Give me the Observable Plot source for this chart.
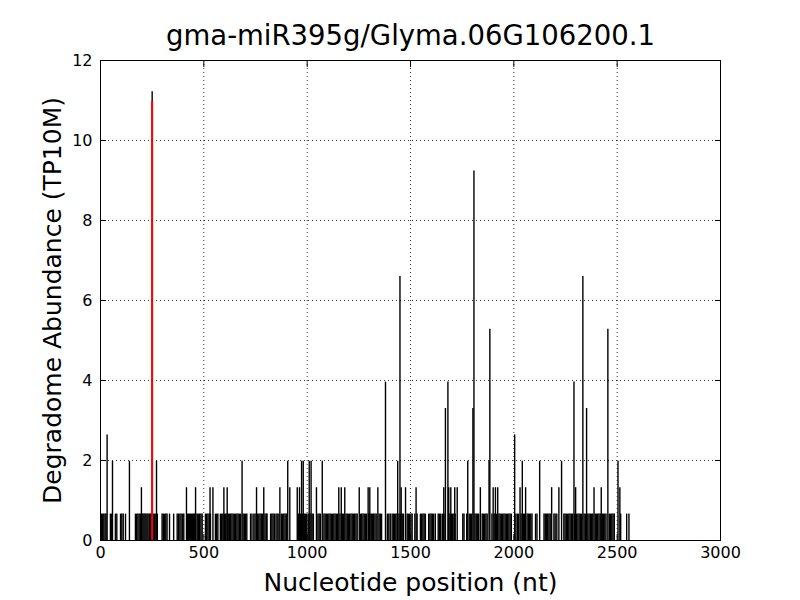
<!DOCTYPE html>
<html><head><meta charset="utf-8">
<script src="https://cdn.jsdelivr.net/npm/d3@7"></script>
<script src="https://cdn.jsdelivr.net/npm/@observablehq/plot@0.6"></script>
<style>body{margin:0;background:#fff;} svg{font-family:"DejaVu Sans";}</style>
</head><body><div id="chart"></div>
<script>
const title = "gma-miR395g/Glyma.06G106200.1";
const xLabel = "Nucleotide position (nt)";
const yLabel = "Degradome Abundance (TP10M)";
const xTicks = [0, 500, 1000, 1500, 2000, 2500, 3000];
const yTicks = [0, 2, 4, 6, 8, 10, 12];

// positions (nt) of reads at each abundance level
const level066 = [5, 10, 16, 22, 27, 48, 53, 72, 79, 97, 103, 110, 121, 169, 175, 181, 187, 193,
  200, 205, 210, 215, 220, 225, 230, 236, 242, 245, 256, 262, 268, 275, 298, 304, 310, 316, 322,
  334, 354, 371, 377, 384, 390, 397, 403, 421, 426, 431, 436, 441, 446, 451, 456, 461,
  468, 474, 480, 486, 492, 508, 514, 520, 526, 532, 556, 562, 568,
  580, 586, 592, 600, 606, 612, 618, 624, 630, 636, 642, 648, 654, 660, 666, 672, 678, 690, 696, 702, 708,
  726, 733, 742, 748, 760, 766, 772, 778, 784, 796, 802, 806, 823, 829, 835, 841, 849, 855,
  863, 875, 881, 887, 893, 899, 957, 968, 978, 986, 992, 998, 1005, 1014, 1024, 1030,
  1052, 1058, 1064, 1081, 1087, 1093, 1099, 1105, 1111, 1117, 1123, 1129, 1135, 1141, 1147,
  1159, 1170, 1176, 1188, 1194, 1200, 1206, 1212, 1218, 1224, 1230, 1236, 1242,
  1258, 1264, 1270, 1276, 1282, 1288, 1298, 1304, 1310, 1316, 1322, 1328, 1334, 1348, 1354, 1360,
  1388, 1395, 1402, 1411, 1417, 1423, 1429, 1435, 1444, 1452, 1460, 1466, 1484, 1490, 1496, 1502, 1508,
  1521, 1532, 1548, 1554, 1560, 1566, 1572, 1588, 1594, 1600, 1606, 1612, 1620, 1634, 1640, 1646, 1654,
  1662, 1686, 1692, 1698, 1704, 1710, 1716, 1753, 1759, 1772, 1784, 1790, 1796, 1812, 1818, 1824, 1830,
  1847, 1853, 1859, 1865, 1871, 1894, 1905, 1916, 1928, 1934, 1940, 1946, 1952, 1958, 1964, 1970, 1976, 1982, 1988,
  2010, 2017, 2023, 2035, 2047, 2052, 2064, 2070, 2076, 2082, 2088, 2105, 2112,
  2146, 2152, 2158, 2164, 2170, 2176, 2194, 2200, 2208, 2242, 2248, 2254, 2260, 2266, 2272, 2278, 2284,
  2294, 2304, 2310, 2316, 2322, 2328, 2340, 2346, 2358, 2364, 2370, 2376, 2382,
  2394, 2400, 2406, 2412, 2418, 2428, 2434, 2440, 2446, 2462, 2468, 2474, 2480, 2486, 2517, 2546, 2557];
const level132 = [198, 416, 460, 530, 544, 597, 613, 755, 790, 868, 916, 952, 963, 1045, 1153, 1165, 1182,
  1252, 1295, 1303, 1342, 1455, 1476, 1527, 1661, 1685, 1695, 1714, 1726, 1838, 1900, 1911, 1922,
  2030, 2057, 2183, 2218, 2299, 2388, 2423, 2513];
const level198 = [58, 140, 271, 685, 906, 973, 981, 1010, 1019, 1073, 1438, 1777, 1880, 2041, 2125, 2231, 2504];
const level264 = [32, 2004];
const peakPos = [250, 1379, 1449, 1669, 1681, 1802, 1807, 1884, 2291, 2334, 2352, 2455];
const peakVal = [11.22, 3.96, 6.6, 3.3, 3.96, 3.3, 9.24, 5.28, 3.96, 6.6, 3.3, 5.28];
const targetPos = [250];
const targetVal = [10.98];

const reads = [
  ...level066.map(x => ({x, y: 0.66})),
  ...level132.map(x => ({x, y: 1.32})),
  ...level198.map(x => ({x, y: 1.98})),
  ...level264.map(x => ({x, y: 2.64})),
  ...peakPos.map((x, i) => ({x, y: peakVal[i]}))
];
const target = targetPos.map((x, i) => ({x, y: targetVal[i]}));
const fmt = d3.format("d");

const plot = Plot.plot({
  width: 800, height: 600,
  marginTop: 60, marginRight: 80, marginBottom: 60, marginLeft: 100,
  style: {fontFamily: "DejaVu Sans", background: "#fff", color: "#000"},
  x: {domain: [0, 3000]},
  y: {domain: [0, 12]},
  marks: [
    Plot.gridX(xTicks, {stroke: "#000", strokeOpacity: 1, strokeWidth: 0.8, strokeDasharray: "1,3"}),
    Plot.gridY(yTicks, {stroke: "#000", strokeOpacity: 1, strokeWidth: 0.8, strokeDasharray: "1,3"}),
    Plot.ruleX(reads, {x: "x", y1: 0, y2: "y", stroke: "#000", strokeWidth: 1.4}),
    Plot.ruleX(target, {x: "x", y1: 0, y2: "y", stroke: "#ff0000", strokeWidth: 2}),
    Plot.frame({stroke: "#000", strokeWidth: 1}),
    // inward ticks
    Plot.axisX(xTicks, {anchor: "bottom", tickSize: 6, dy: -6, text: null, label: null}),
    Plot.axisX(xTicks, {anchor: "top", tickSize: 6, dy: 6, text: null, label: null}),
    Plot.axisY(yTicks, {anchor: "left", tickSize: 6, dx: 6, text: null, label: null}),
    Plot.axisY(yTicks, {anchor: "right", tickSize: 6, dx: -6, text: null, label: null}),
    // tick labels
    Plot.axisX(xTicks, {anchor: "bottom", tickSize: 0, tickPadding: 6, fontSize: 16, label: null, tickFormat: fmt}),
    Plot.axisY(yTicks, {anchor: "left", tickSize: 0, tickPadding: 8, fontSize: 16, label: null, tickFormat: fmt}),
    Plot.text([title], {frameAnchor: "top", dy: -16, fontSize: 27.5, lineAnchor: "bottom", fill: "#000"}),
    Plot.text([xLabel], {frameAnchor: "bottom", dy: 42, fontSize: 25, lineAnchor: "middle", fill: "#000"}),
    Plot.text([yLabel], {frameAnchor: "left", dx: -48, fontSize: 25, rotate: -90, textAnchor: "middle", lineAnchor: "middle", fill: "#000"})
  ]
});
document.getElementById("chart").appendChild(plot);
</script>
</body></html>
